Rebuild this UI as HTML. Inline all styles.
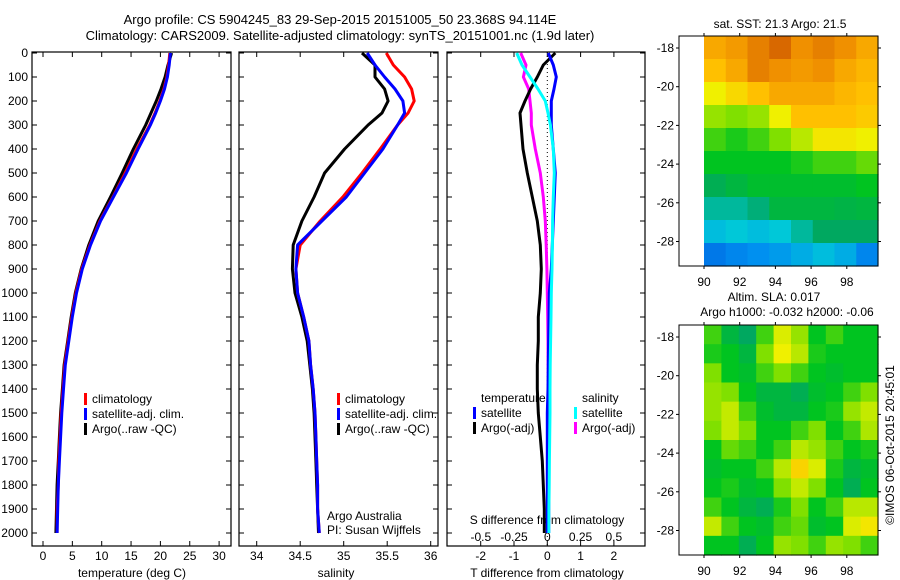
<!DOCTYPE html>
<html><head><meta charset="utf-8"><style>
body{margin:0;background:#fff;}
svg{display:block;font-family:"Liberation Sans",sans-serif;}
text{font-size:12px;fill:#000;}
</style></head><body>
<svg id="chart" width="900" height="580" viewBox="0 0 900 580">
<text x="340" y="24" text-anchor="middle" style="font-size:13px">Argo profile: CS 5904245_83 29-Sep-2015 20151005_50 23.368S 94.114E</text>
<text x="340" y="40" text-anchor="middle" style="font-size:13px">Climatology: CARS2009. Satellite-adjusted climatology: synTS_20151001.nc (1.9d later)</text>
<g id="g"></g>
</svg>
<script>
// ---------- data ----------
const depths = [0,50,100,150,200,250,300,400,500,600,700,800,900,1000,1100,1200,1300,1400,1500,1600,1700,1800,1900,2000];
const tempClim = [21.6,21.4,21.1,20.6,19.9,19.1,18.2,16.0,14.0,11.9,9.7,8.0,6.6,5.6,4.9,4.3,3.7,3.4,3.1,2.9,2.7,2.6,2.4,2.4];
const tempSat  = [21.7,21.5,21.2,20.7,20.0,19.2,18.3,16.2,14.2,12.0,9.8,8.1,6.7,5.7,5.0,4.4,3.8,3.5,3.2,3.0,2.8,2.6,2.5,2.4];
const tempArgo = [21.9,21.3,20.8,20.1,19.3,18.4,17.5,15.4,13.5,11.5,9.4,7.8,6.5,5.5,4.8,4.2,3.6,3.3,3.0,2.8,2.6,2.4,2.3,2.2];
const salClim = [35.49,35.57,35.70,35.78,35.81,35.74,35.62,35.42,35.21,34.99,34.73,34.50,34.45,34.47,34.54,34.60,34.62,34.65,34.67,34.68,34.69,34.70,34.70,34.72];
const salSat  = [35.27,35.36,35.47,35.59,35.68,35.70,35.62,35.45,35.24,35.03,34.75,34.47,34.45,34.47,34.54,34.60,34.62,34.65,34.67,34.68,34.69,34.70,34.70,34.72];
const salArgo = [35.21,35.36,35.36,35.47,35.51,35.44,35.28,35.01,34.78,34.66,34.52,34.42,34.41,34.44,34.52,34.58,34.61,34.64,34.66,34.67,34.68,34.69,34.70,34.71];
const dTsat  = [0.03,0.18,0.27,0.2,0.12,0.12,0.12,0.18,0.24,0.21,0.18,0.15,0.12,0.06,0.05,0.04,0.03,0.02,0.0,0.0,0.0,0.0,0.0,0.0];
const dTargo = [0.24,-0.12,-0.3,-0.5,-0.67,-0.82,-0.79,-0.73,-0.6,-0.45,-0.3,-0.21,-0.18,-0.21,-0.27,-0.27,-0.3,-0.3,-0.27,-0.21,-0.15,-0.12,-0.09,-0.09];
const dSsat  = [-0.23,-0.19,-0.13,-0.07,-0.015,0.005,0.023,0.045,0.053,0.045,0.04,0.038,0.035,0.03,0.028,0.025,0.022,0.02,0.02,0.018,0.016,0.014,0.012,0.012];
const dSargo = [-0.2,-0.16,-0.18,-0.14,-0.13,-0.12,-0.12,-0.09,-0.053,-0.03,-0.015,-0.008,-0.003,0.0,0.003,0.005,0.006,0.008,0.01,0.01,0.01,0.012,0.012,0.012];
const depthTicks = [0,100,200,300,400,500,600,700,800,900,1000,1100,1200,1300,1400,1500,1600,1700,1800,1900,2000];
const tempTicks = [0,5,10,15,20,25,30];
const salTicks = [34,34.5,35,35.5,36];
const dTTicks = [-2,-1,0,1,2];
const dSTicks = [-0.5,-0.25,0,0.25,0.5];
const latTicks = [-18,-20,-22,-24,-26,-28];
const lonTicks = [90,92,94,96,98];
const sstGrid = [
[.85,.88,.92,.95,.9,.92,.9,.85],
[.8,.85,.92,.9,.88,.9,.85,.82],
[.7,.75,.8,.85,.85,.85,.82,.8],
[.62,.6,.62,.7,.8,.8,.8,.78],
[.55,.52,.55,.6,.65,.72,.72,.7],
[.5,.5,.5,.5,.52,.55,.55,.58],
[.42,.45,.48,.48,.48,.48,.48,.5],
[.35,.35,.38,.45,.45,.45,.44,.45],
[.28,.3,.28,.3,.35,.4,.4,.4],
[.15,.18,.2,.22,.25,.28,.25,.18]];
const slaGrid = [
[.55,.45,.4,.55,.68,.62,.5,.55,.5,.5],
[.52,.5,.45,.6,.7,.65,.52,.5,.5,.5],
[.6,.5,.48,.55,.6,.55,.5,.48,.5,.5],
[.62,.6,.5,.45,.45,.42,.48,.5,.55,.6],
[.62,.66,.55,.48,.45,.45,.5,.52,.62,.66],
[.6,.66,.6,.5,.5,.55,.6,.5,.55,.64],
[.5,.58,.55,.5,.55,.65,.62,.55,.5,.52],
[.48,.5,.5,.55,.65,.76,.68,.52,.45,.48],
[.5,.52,.48,.5,.6,.66,.6,.5,.42,.5],
[.55,.5,.45,.42,.52,.6,.5,.55,.65,.65],
[.66,.55,.5,.48,.55,.58,.48,.5,.68,.72],
[.5,.5,.42,.5,.62,.6,.55,.62,.6,.55]];

// ---------- helpers ----------
const NS="http://www.w3.org/2000/svg";
const G=document.getElementById('g');
function mk(tag,attrs,parent){const e=document.createElementNS(NS,tag);for(const k in attrs)e.setAttribute(k,attrs[k]);(parent||G).appendChild(e);return e;}
function txt(x,y,s,anchor,parent){const t=mk('text',{x:x,y:y,'text-anchor':anchor||'middle'},parent);t.textContent=s;return t;}
const yD=d=>53+d*0.24;
const TOP=52,BOT=546;

function panel(name,x0,x1){
  const r=mk('rect',{x:x0,y:TOP,width:x1-x0,height:BOT-TOP,fill:'none',stroke:'#000','stroke-width':1.2});
  
  
}
function xticks(name,vals,fx,yl,labels){
  vals.forEach((v,i)=>{const x=fx(v);
    mk('line',{x1:x,x2:x,y1:BOT,y2:BOT-5,stroke:'#000'});
    mk('line',{x1:x,x2:x,y1:TOP,y2:TOP+5,stroke:'#000'});
    const t=txt(x,yl,labels?labels[i]:String(v));
    
    
  });
}
function yticks(x0,x1){depthTicks.forEach(d=>{const y=yD(d);
  mk('line',{x1:x0,x2:x0+5,y1:y,y2:y,stroke:'#000'});
  mk('line',{x1:x1,x2:x1-5,y1:y,y2:y,stroke:'#000'});});}
function line(name,vals,fx,color,w){
  const pts=vals.map((v,i)=>fx(v).toFixed(1)+','+yD(depths[i]).toFixed(1)).join(' ');
  const p=mk('polyline',{points:pts,fill:'none',stroke:color,'stroke-width':w||3,'stroke-linejoin':'round'});
  
  
}
function legend(x,y,items){items.forEach((it,i)=>{
  mk('rect',{x:x,y:y+i*15-10,width:3,height:12,fill:it[0]});
  const t=txt(x+8,y+i*15,it[1],'start');
  
  
});}

// ---------- panel 1: temperature ----------
const xT=v=>43+v*5.87;
panel('temperature-panel',32,231);
yticks(32,231);
depthTicks.forEach(d=>{const t=txt(28,yD(d)+4,String(d),'end');
  
  });
xticks('temperature',tempTicks,xT,560);
let t1=txt(132,577,'temperature (deg C)');
line('temp-argo',tempArgo,xT,'#000',3);
line('temp-climatology',tempClim,xT,'#f00',3);
line('temp-satellite',tempSat,xT,'#00f',3);
legend(84,403,[['#f00','climatology'],['#00f','satellite-adj. clim.'],['#000','Argo(..raw -QC)']]);

// ---------- panel 2: salinity ----------
const xS=v=>256.7+(v-34)*87;
panel('salinity-panel',239,438);
yticks(239,438);
xticks('salinity',salTicks,xS,560);
let t2=txt(336,577,'salinity');
line('sal-argo',salArgo,xS,'#000',3);
line('sal-climatology',salClim,xS,'#f00',3);
line('sal-satellite',salSat,xS,'#00f',3);
legend(337,403,[['#f00','climatology'],['#00f','satellite-adj. clim.'],['#000','Argo(..raw -QC)']]);
let a1=txt(327,520,'Argo Australia','start');
let a2=txt(327,534,'PI: Susan Wijffels','start');

// ---------- panel 3: differences ----------
const xdT=v=>547.3+v*33.3;
const xdS=v=>547.3+v*133;
panel('difference-panel',447,645);
yticks(447,645);
xticks('t-difference',dTTicks,xdT,560);
dSTicks.forEach((v,i)=>{const t=txt(xdS(v),541,String(v));});
let t3=txt(547,524,'S difference from climatology');
let t4=txt(547,577,'T difference from climatology');
mk('line',{x1:547.3,x2:547.3,y1:TOP,y2:BOT,stroke:'#000','stroke-dasharray':'1,3'});
line('dS-argo',dSargo,xdS,'#f0f',3);
line('dT-argo',dTargo,xdT,'#000',3);
line('dT-satellite',dTsat,xdT,'#00f',3);
line('dS-satellite',dSsat,xdS,'#0ff',3);
let lt=txt(481,402,'temperature','start');
let ls=txt(582,402,'salinity','start');
legend(473,417,[['#00f','satellite'],['#000','Argo(-adj)']]);
legend(574,417,[['#0ff','satellite'],['#f0f','Argo(-adj)']]);

// ---------- maps ----------
const stops=[[0,[0,48,208]],[0.2,[0,144,240]],[0.3,[0,200,216]],[0.4,[0,168,96]],[0.5,[0,196,32]],[0.6,[128,224,0]],[0.7,[240,240,0]],[0.8,[255,192,0]],[0.9,[240,144,0]],[1,[192,64,0]]];
function cmap(v){for(let i=1;i<stops.length;i++){if(v<=stops[i][0]){const a=stops[i-1],b=stops[i],f=(v-a[0])/(b[0]-a[0]);
  return 'rgb('+a[1].map((c,k)=>Math.round(c+(b[1][k]-c)*f)).join(',')+')';}}return 'rgb(192,64,0)';}
function map(name,grid,top){
  const x0=679,x1=878,bot=top+230;
  const lonX=v=>704+(v-90)*17.85;
  const latY=v=>top+12+(-18-v)*19.35;
  const dx=(878-704)/grid[0].length, dy=(bot-top)/grid.length;
  grid.forEach((row,r)=>row.forEach((v,c)=>{
    const cell=mk('rect',{x:(704+c*dx).toFixed(2),y:(top+r*dy).toFixed(2),width:(dx+0.6).toFixed(2),height:(dy+0.6).toFixed(2),fill:cmap(v)});
    
    
  }));
  const f=mk('rect',{x:x0,y:top,width:x1-x0,height:bot-top,fill:'none',stroke:'#000'});
  
  
  latTicks.forEach(v=>{const y=latY(v);
    mk('line',{x1:x0-3,x2:x0,y1:y,y2:y,stroke:'#000'});mk('line',{x1:x1,x2:x1+3,y1:y,y2:y,stroke:'#000'});
    const t=txt(674,y+4,String(v),'end');});
  lonTicks.forEach(v=>{const x=lonX(v);
    mk('line',{x1:x,x2:x,y1:bot,y2:bot+3,stroke:'#000'});mk('line',{x1:x,x2:x,y1:top,y2:top-3,stroke:'#000'});
    const t=txt(x,bot+20,String(v));});
}
map('sst-map',sstGrid,36);
map('sla-map',slaGrid,325);
let m1=txt(780,28,'sat. SST: 21.3 Argo: 21.5');
let m2=txt(774,301,'Altim. SLA: 0.017');
let m3=txt(787,316,'Argo h1000: -0.032 h2000: -0.06');
let cp=txt(0,0,'©IMOS 06-Oct-2015 20:45:01');cp.setAttribute('transform','translate(894,445) rotate(-90)');

</script>
</body></html>
